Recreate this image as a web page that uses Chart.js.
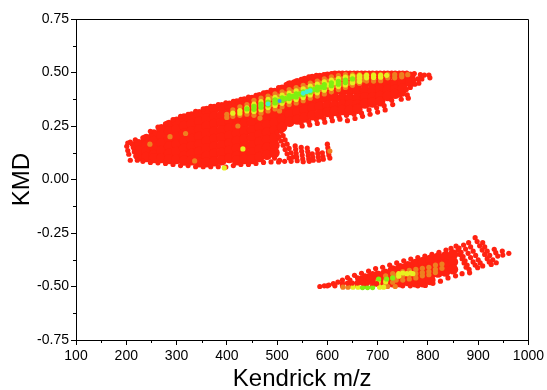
<!DOCTYPE html>
<html>
<head>
<meta charset="utf-8">
<title>KMD plot</title>
<style>
  html, body { margin: 0; padding: 0; background: #fff; }
  canvas { display: block; }
</style>
<script src="https://cdn.jsdelivr.net/npm/chart.js@4/dist/chart.umd.min.js"></script>
</head>
<body>
<canvas id="kmd-chart" width="547" height="390"></canvas>
<script>
const xTickValues = [100, 200, 300, 400, 500, 600, 700, 800, 900, 1000];
const xMinorTicks = [150, 250, 350, 450, 550, 650, 750, 850, 950];
const yTickValues = [-0.75, -0.5, -0.25, 0, 0.25, 0.5, 0.75];
const yMinorTicks = [-0.625, -0.375, -0.125, 0.125, 0.375, 0.625];

// solid body of the upper island
const upperBody = [
  [225,.165],[225,.135],[225,.11],
  [240,.19],[240,.16],[240,.13],[240,.105],
  [255,.21],[255,.18],[255,.15],[255,.115],[255,.10],
  [270,.235],[270,.205],[270,.17],[270,.135],[270,.10],
  [285,.255],[285,.225],[285,.19],[285,.155],[285,.12],[285,.095],
  [300,.27],[300,.235],[300,.20],[300,.165],[300,.13],[300,.095],
  [315,.285],[315,.25],[315,.215],[315,.18],[315,.145],[315,.11],[315,.088],
  [330,.295],[330,.26],[330,.225],[330,.19],[330,.155],[330,.12],[330,.09],
  [345,.305],[345,.27],[345,.235],[345,.20],[345,.165],[345,.13],[345,.095],[345,.08],
  [360,.32],[360,.285],[360,.25],[360,.215],[360,.18],[360,.145],[360,.11],[360,.08],
  [375,.33],[375,.295],[375,.26],[375,.225],[375,.19],[375,.155],[375,.12],[375,.085],
  [390,.338],[390,.30],[390,.265],[390,.23],[390,.195],[390,.16],[390,.125],[390,.09],
  [405,.345],[405,.31],[405,.275],[405,.24],[405,.205],[405,.17],[405,.135],[405,.10],
  [420,.355],[420,.32],[420,.285],[420,.25],[420,.215],[420,.18],[420,.145],[420,.11],[420,.09],
  [435,.365],[435,.33],[435,.295],[435,.26],[435,.225],[435,.19],[435,.155],[435,.12],[435,.095],
  [450,.372],[450,.337],[450,.30],[450,.265],[450,.23],[450,.195],[450,.16],[450,.125],[450,.095],
  [465,.385],[465,.35],[465,.315],[465,.28],[465,.245],[465,.21],[465,.175],[465,.14],[465,.105],
  [480,.395],[480,.36],[480,.325],[480,.29],[480,.255],[480,.22],[480,.185],[480,.15],[480,.115],
  [495,.405],[495,.37],[495,.335],[495,.30],[495,.265],[495,.23],[495,.195],[495,.16],[495,.125],
  [510,.42],[510,.385],[510,.35],[510,.315],[510,.28],[510,.245],
  [525,.44],[525,.41],[525,.375],[525,.34],[525,.305],[525,.27],
  [540,.45],[540,.42],[540,.385],[540,.35],[540,.315],[540,.28],
  [555,.46],[555,.43],[555,.395],[555,.36],[555,.325],[555,.29],
  [570,.47],[570,.44],[570,.405],[570,.37],[570,.335],[570,.30],
  [585,.475],[585,.445],[585,.41],[585,.375],[585,.34],[585,.305],
  [600,.48],[600,.45],[600,.415],[600,.38],[600,.345],[600,.315],
  [615,.485],[615,.45],[615,.415],[615,.38],[615,.345],[615,.32],
  [630,.485],[630,.45],[630,.415],[630,.38],[630,.35],[630,.325],
  [645,.485],[645,.45],[645,.415],[645,.38],[645,.35],[645,.325],
  [660,.485],[660,.45],[660,.415],[660,.38],[660,.35],[660,.33],
  [675,.485],[675,.45],[675,.415],[675,.385],[675,.355],
  [690,.485],[690,.45],[690,.415],[690,.385],[690,.36],
  [705,.485],[705,.45],[705,.42],[705,.39],[705,.365],
  [720,.485],[720,.45],[720,.42],[720,.39],
  [735,.485],[735,.45],[735,.42],[735,.40],
  [750,.485],[750,.45],[750,.425],
  [765,.48],[765,.455]
];

// outline dots of the upper island: top edge, bottom edge, then loose stripes
const upperEdge = [
  [203,.17],[208,.175],[212,.165],[218,.185],[233,.195],[248,.225],[263,.245],[278,.26],[293,.28],[308,.295],[323,.305],
  [338,.318],[353,.33],[368,.342],[383,.35],[398,.358],[413,.365],[428,.375],[443,.385],[458,.393],
  [473,.405],[488,.418],[503,.43],[518,.443],[533,.455],[548,.468],[563,.48],[578,.487],[593,.49],
  [608,.495],[623,.497],[638,.497],[653,.497],[668,.497],[683,.497],[698,.497],[713,.497],[728,.497],
  [743,.497],[758,.497],[773,.495],[785,.49],[793,.488],[802,.488],[804,.475],
  [201,.155],[203,.135],[205,.118],[208,.09],[214,.15],[216,.13],[219,.11],[222,.09],
  [233,.085],[248,.08],[263,.078],
  [278,.075],[293,.07],[308,.065],[323,.065],[338,.06],[353,.06],[368,.06],[383,.06],[398,.058],
  [413,.065],[428,.07],[443,.07],[458,.075],[473,.08],[488,.082],[503,.082],
  [548,.265],[550,.25],[563,.27],[565,.255],[578,.28],[580,.262],[593,.285],[595,.268],
  [608,.292],[610,.275],[623,.295],[625,.282],[638,.30],[640,.275],[653,.305],[655,.285],
  [668,.31],[670,.295],[683,.325],[685,.305],[698,.335],[700,.315],[713,.345],[715,.325],
  [728,.37],[730,.35],[745,.395],[747,.375],[750,.40],[757,.42],[759,.395],[761,.38],
  [765,.43],[772,.465],[774,.445],[780,.47],[782,.45],[788,.47]
];

const tailStripes = [
  [500,.22],[504,.20],[508,.18],[512,.16],[516,.14],[520,.12],[524,.10],[528,.085],
  [508,.225],[512,.205],[516,.185],[520,.165],[524,.145],[528,.125],[532,.105],
  [495,.10],[505,.09],[515,.085],
  [536,.157],[537,.14],[538,.122],[539,.105],[540,.088],
  [548,.15],[549,.132],[550,.114],[551,.096],[552,.083],
  [560,.147],[561,.13],[562,.112],[563,.096],[564,.085],
  [570,.12],[571,.105],[572,.09],
  [580,.14],[581,.122],[582,.105],[583,.09],
  [590,.125],[591,.108],[592,.095],
  [600,.165],[601,.148],[602,.13],[603,.115],[605,.10]
];

const lowerBody = [
  [670,-.47],[685,-.46],[700,-.45],[700,-.478],[715,-.44],[715,-.475],
  [730,-.425],[730,-.46],[730,-.48],[745,-.415],[745,-.45],[745,-.48],
  [760,-.405],[760,-.44],[760,-.475],[775,-.395],[775,-.43],[775,-.465],[775,-.48],
  [790,-.385],[790,-.42],[790,-.455],[790,-.48],[805,-.375],[805,-.41],[805,-.445],[805,-.47],
  [820,-.365],[820,-.40],[820,-.435],[835,-.36],[835,-.395],[835,-.43],
  [850,-.35],[850,-.385],[850,-.42]
];

const lowerEdge = [
  [585,-.5],[594,-.497],[603,-.493],[612,-.487],[621,-.48],[630,-.47],[640,-.458],[654,-.448],
  [668,-.438],[682,-.428],[696,-.416],[710,-.41],[724,-.4],[738,-.39],[752,-.38],[766,-.372],
  [780,-.365],[794,-.358],[808,-.35],[822,-.34],[836,-.33],[846,-.322],
  [600,-.497],[615,-.497],[630,-.497],[645,-.497],[660,-.497],[675,-.497],[690,-.497],[705,-.497],
  [720,-.497],[735,-.497],[750,-.497],[765,-.497],[780,-.497],[795,-.495],[810,-.485],[825,-.475],
  [840,-.46],[855,-.45],[868,-.44],
  [630,-.485],[645,-.47],[645,-.485],[660,-.46],[660,-.48],[675,-.45],[675,-.48],[690,-.44],[690,-.48],
  [856,-.311],[860,-.33],[864,-.35],[868,-.37],[872,-.39],[876,-.41],[883,-.436],
  [862,-.32],[866,-.34],[870,-.36],[874,-.38],[878,-.40],[882,-.42],
  [871,-.306],[875,-.325],[880,-.345],[885,-.365],[890,-.385],[894,-.40],[899,-.412],
  [881,-.295],[885,-.315],[890,-.335],[895,-.355],[900,-.375],[904,-.39],[909,-.404],
  [894,-.272],[898,-.29],[903,-.31],[908,-.33],[913,-.35],[918,-.37],[922,-.385],[926,-.397],
  [909,-.295],[913,-.315],[918,-.335],[923,-.355],[929,-.375],[936,-.389],
  [932,-.326],[935,-.342],[939,-.358],
  [948,-.334],[949,-.353],[961,-.345]
];

// red dots that sit over the coloured bottom row of the lower island
const lowerCover = [
  [640,-.484],[650,-.484],[660,-.484],[670,-.484],[680,-.484],[690,-.484],[698,-.486]
];

const orangeSpots = [
  [400,.305],[400,.29],[412,.325],[412,.31],[412,.295],[426,.34],[426,.32],[426,.30],
  [440,.35],[440,.33],[440,.305],[454,.37],[454,.345],[454,.315],[454,.30],
  [468,.38],[468,.355],[468,.325],[468,.31],[482,.39],[482,.365],[482,.335],[482,.32],
  [496,.40],[496,.375],[496,.345],[496,.33],[510,.41],[510,.385],[510,.36],[510,.34],
  [524,.42],[524,.395],[524,.37],[524,.35],[538,.43],[538,.405],[538,.38],[538,.358],
  [552,.44],[552,.42],[552,.39],[552,.368],[566,.45],[566,.43],[566,.40],[566,.38],
  [580,.46],[580,.44],[580,.41],[580,.39],[594,.47],[594,.45],[594,.42],[594,.40],
  [608,.48],[608,.46],[608,.43],[608,.41],[622,.485],[622,.465],[622,.44],[622,.42],
  [636,.49],[636,.47],[636,.45],[636,.43],[650,.49],[650,.47],[650,.45],[650,.44],
  [664,.49],[664,.475],[664,.46],[664,.45],[678,.49],[678,.475],[678,.46],
  [692,.49],[692,.475],[692,.46],[706,.49],[706,.475],[706,.462],
  [720,.49],[720,.475],[734,.49],[734,.475],[748,.49],[748,.48],[760,.49],
  [489,.38],[489,.35],[503,.39],[503,.36],[517,.40],[517,.37],[531,.41],[531,.38],
  [545,.42],[545,.39],[559,.43],[559,.40],[573,.44],[573,.41],[587,.45],[587,.42],
  [601,.46],[601,.43],[615,.465],[615,.44],[629,.47],[629,.445],[643,.475],[643,.45],
  [657,.48],[657,.46],[671,.48],[671,.465],
  [247,.165],[287,.20],[318,.215],[336,.087],[422,.25],[466,.287],[505,.32],[605,.133],
  [737,-.45],[737,-.47],[750,-.43],[750,-.45],[750,-.47],[763,-.425],[763,-.445],[763,-.465],
  [776,-.42],[776,-.44],[776,-.46],[789,-.415],[789,-.435],[789,-.45],[802,-.41],[802,-.43],
  [802,-.445],[815,-.40],[815,-.42],[815,-.435],[828,-.395],[828,-.415],
  [701,-.47],[701,-.49],[716,-.45],[716,-.47],[716,-.49],[730,-.44],[730,-.46],[730,-.48],
  [631,-.503],[641,-.503],[720,-.5],[735,-.5]
];

const yellowSpots = [
  [412,.31],[426,.322],[426,.31],[440,.335],[440,.32],[454,.352],[454,.335],[454,.318],
  [468,.364],[468,.345],[468,.326],[482,.374],[482,.355],[482,.336],[496,.384],[496,.365],[496,.346],
  [510,.394],[510,.375],[510,.356],[524,.404],[524,.385],[524,.366],[538,.414],[538,.393],[538,.374],
  [552,.424],[552,.403],[552,.383],[566,.436],[566,.415],[566,.395],[580,.446],[580,.425],[580,.405],
  [594,.456],[594,.437],[594,.417],[608,.464],[608,.445],[608,.426],[622,.472],[622,.452],[622,.434],
  [636,.478],[636,.46],[636,.442],[650,.483],[650,.467],[650,.452],[664,.485],[664,.473],[664,.458],
  [678,.487],[678,.475],[692,.487],[692,.477],[706,.487],[706,.478],[718,.487],
  [503,.372],[517,.382],[531,.392],[545,.40],[559,.412],[573,.422],[587,.432],[601,.442],[615,.452],
  [432,.143],[395,.054],
  [742,-.44],[750,-.437],[758,-.44],[766,-.437],[770,-.44],[742,-.452],[701,-.478],[716,-.478],
  [651,-.503],[661,-.503],[704,-.503],[712,-.503]
];

const greenSpots = [
  [440,.33],[454,.342],[454,.328],[468,.352],[468,.338],[482,.362],[482,.348],[496,.372],[496,.358],
  [510,.382],[510,.368],[524,.392],[524,.378],[538,.40],[538,.386],[552,.41],[552,.396],
  [566,.422],[566,.408],[580,.432],[580,.418],[594,.444],[594,.43],[608,.452],[608,.438],
  [622,.459],[622,.445],[636,.465],[636,.453],[650,.47],
  [545,.40],[559,.41],[573,.42],[587,.431],[503,.368],[517,.378],[531,.388],
  [702,-.465],[718,-.465],[730,-.46],[670,-.505],[680,-.505],[690,-.505]
];

const cyanSpots = [[482,.353],[552,.403],[559,.41],[566,.415]];
const blueSpots = [[505,.367]];

const axisFont = { family: "'Liberation Sans', Arial, sans-serif", size: 14 };
const titleFont = { family: "'Liberation Sans', Arial, sans-serif", size: 24 };

// chart.js paints lower order on top, so hotter colours get the lower numbers
function layer(data, color, radius, order) {
  return {
    data: data,
    backgroundColor: color,
    borderWidth: 0,
    pointRadius: radius,
    pointHoverRadius: radius,
    order: order,
  };
}

// short unlabelled ticks between the major ones, plus the top and right frame lines
const frameAndMinorTicks = {
  id: 'frameAndMinorTicks',
  afterDraw(chart) {
    const { ctx, scales, chartArea } = chart;
    ctx.save();
    ctx.strokeStyle = '#000';
    ctx.lineWidth = 1;
    ctx.beginPath();
    xMinorTicks.forEach((v) => {
      const px = Math.round(scales.x.getPixelForValue(v)) + 0.5;
      ctx.moveTo(px, scales.x.top);
      ctx.lineTo(px, scales.x.top + 3);
    });
    yMinorTicks.forEach((v) => {
      const py = Math.round(scales.y.getPixelForValue(v)) + 0.5;
      ctx.moveTo(scales.y.right, py);
      ctx.lineTo(scales.y.right - 3, py);
    });
    ctx.moveTo(chartArea.left, Math.round(chartArea.top) + 0.5);
    ctx.lineTo(Math.round(chartArea.right) + 0.5, Math.round(chartArea.top) + 0.5);
    ctx.lineTo(Math.round(chartArea.right) + 0.5, chartArea.bottom);
    ctx.stroke();
    ctx.restore();
  },
};

new Chart(document.getElementById('kmd-chart'), {
  type: 'scatter',
  data: {
    datasets: [
      layer(upperBody, '#ff2211', 5.2, 9),
      layer(lowerBody, '#ff2211', 5.2, 9),
      layer(upperEdge, '#ff2211', 2.6, 8),
      layer(tailStripes, '#ff2211', 2.6, 8),
      layer(lowerEdge, '#ff2211', 2.6, 8),
      layer(orangeSpots, '#ee8020', 2.6, 5),
      layer(yellowSpots, '#e8f020', 2.6, 4),
      layer(greenSpots, '#80f010', 2.6, 3),
      layer(lowerCover, '#ff2211', 2.6, 2.5),
      layer(cyanSpots, '#40f0d0', 2.4, 2),
      layer(blueSpots, '#4090f0', 2, 1),
    ],
  },
  plugins: [frameAndMinorTicks],
  options: {
    responsive: false,
    animation: false,
    layout: { padding: { top: 19, right: 18, left: 0, bottom: 0 } },
    plugins: { legend: { display: false }, tooltip: { enabled: false } },
    scales: {
      x: {
        type: 'linear',
        min: 100,
        max: 1000,
        afterBuildTicks: (s) => { s.ticks = xTickValues.map((v) => ({ value: v })); },
        afterFit: (s) => { s.height = 50; },
        grid: { drawOnChartArea: false, color: '#000', tickLength: 5 },
        border: { color: '#000', width: 1 },
        ticks: { color: '#000', font: axisFont, maxRotation: 0, padding: 3, callback: (v) => String(v) },
        title: { display: true, text: 'Kendrick m/z', color: '#000', font: titleFont, padding: { top: 0, bottom: -4 } },
      },
      y: {
        type: 'linear',
        min: -0.75,
        max: 0.75,
        afterBuildTicks: (s) => { s.ticks = yTickValues.map((v) => ({ value: v })); },
        afterFit: (s) => { s.width = 76; },
        grid: { drawOnChartArea: false, color: '#000', tickLength: 5 },
        border: { color: '#000', width: 1 },
        ticks: { color: '#000', font: axisFont, padding: 2, callback: (v) => Number(v).toFixed(2) },
        title: { display: true, text: 'KMD', color: '#000', font: titleFont, padding: { top: 8, bottom: 0 } },
      },
    },
  },
});
</script>
</body>
</html>
